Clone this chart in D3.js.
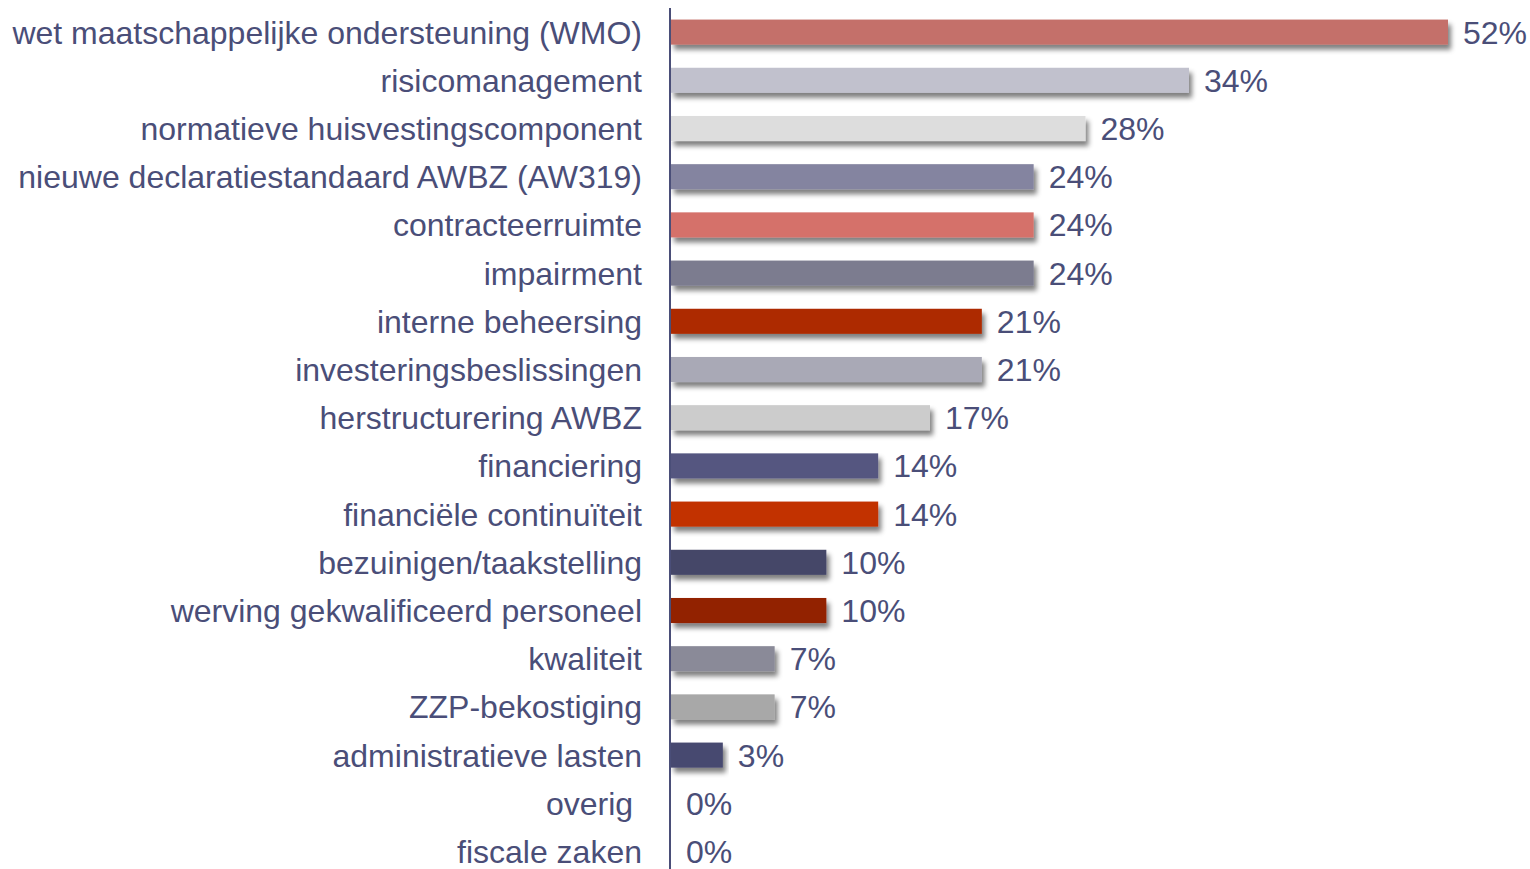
<!DOCTYPE html>
<html>
<head>
<meta charset="utf-8">
<script src="https://cdn.jsdelivr.net/npm/d3@7"></script>
<style>
  body { margin: 0; background: #fff; }
  svg { display: block; }
  text { font-family: "Liberation Sans", Arial, sans-serif; fill: #4a4e78; white-space: pre; }
</style>
</head>
<body>
<svg id="chart" width="1530" height="869"></svg>
<script>
// categories top to bottom
const categories = [
  "wet maatschappelijke ondersteuning (WMO)",
  "risicomanagement",
  "normatieve huisvestingscomponent",
  "nieuwe declaratiestandaard AWBZ (AW319)",
  "contracteerruimte",
  "impairment",
  "interne beheersing",
  "investeringsbeslissingen",
  "herstructurering AWBZ",
  "financiering",
  "financiële continuïteit",
  "bezuinigen/taakstelling",
  "werving gekwalificeerd personeel",
  "kwaliteit",
  "ZZP-bekostiging",
  "administratieve lasten",
  "overig ",
  "fiscale zaken"
];

// share of respondents, percent
const values = [51.72, 34.48, 27.59, 24.14, 24.14, 24.14, 20.69, 20.69, 17.24,
                13.79, 13.79, 10.34, 10.34, 6.9, 6.9, 3.45, 0, 0];

const barColors = [
  "#c4706a", "#c1c1cd", "#dddddd", "#8484a0", "#d5716a", "#7b7b8f",
  "#ad2a00", "#a9a9b6", "#cccccc", "#545680", "#c23000", "#454668",
  "#922000", "#8a8a98", "#a8a8a8", "#464870", "#ffffff", "#ffffff"
];

const svg = d3.select("#chart");
const axisX = 670;

const x = d3.scaleLinear().domain([0, 51.72]).range([axisX + 1, 1448]);
const y = d3.scaleBand().domain(categories).range([8, 875.6])
    .paddingInner(0.48).paddingOuter(0.24);

// drop shadow like the office chart
const defs = svg.append("defs");
const f = defs.append("filter").attr("id", "shadow")
    .attr("x", "-5%").attr("y", "-30%").attr("width", "115%").attr("height", "190%");
f.append("feGaussianBlur").attr("in", "SourceAlpha").attr("stdDeviation", 2.5).attr("result", "b");
f.append("feOffset").attr("dx", 3).attr("dy", 5).attr("result", "o");
f.append("feFlood").attr("flood-color", "#000").attr("flood-opacity", 0.5);
f.append("feComposite").attr("in2", "o").attr("operator", "in").attr("result", "s");
const m = f.append("feMerge");
m.append("feMergeNode").attr("in", "s");
m.append("feMergeNode").attr("in", "SourceGraphic");

const rows = categories.map((c, i) => ({ name: c, value: values[i], color: barColors[i] }));

svg.selectAll("rect.bar").data(rows.filter(d => d.value > 0)).enter()
  .append("rect")
    .attr("class", "bar")
    .attr("x", x(0))
    .attr("y", d => y(d.name))
    .attr("width", d => x(d.value) - x(0))
    .attr("height", y.bandwidth())
    .attr("fill", d => d.color)
    .attr("filter", "url(#shadow)");

// category labels
svg.selectAll("text.cat").data(rows).enter()
  .append("text")
    .attr("class", "cat")
    .attr("x", axisX - 28)
    .attr("y", d => y(d.name) + y.bandwidth() / 2)
    .attr("dy", "0.36em")
    .attr("text-anchor", "end")
    .attr("font-size", 32)
    .text(d => d.name);

// value labels
svg.selectAll("text.val").data(rows).enter()
  .append("text")
    .attr("class", "val")
    .attr("x", d => x(d.value) + 15)
    .attr("y", d => y(d.name) + y.bandwidth() / 2)
    .attr("dy", "0.36em")
    .attr("font-size", 32)
    .text(d => d3.format(".0f")(d.value) + "%");

// category axis line
svg.append("line")
    .attr("x1", axisX).attr("x2", axisX)
    .attr("y1", 8).attr("y2", 869)
    .attr("stroke", "#4a4e78").attr("stroke-width", 2);
</script>
</body>
</html>
